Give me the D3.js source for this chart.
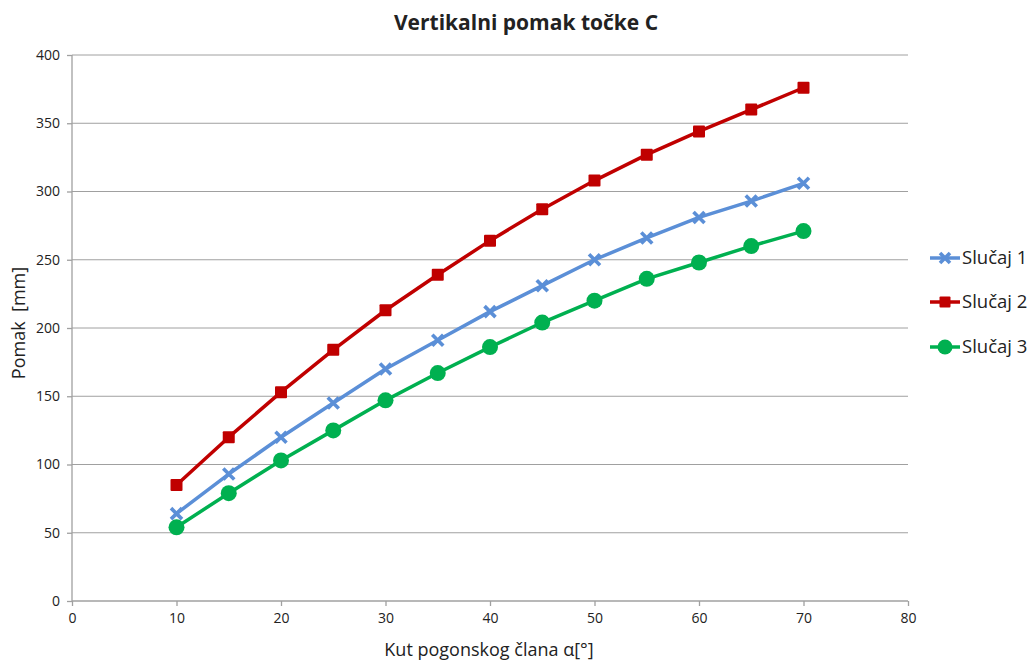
<!DOCTYPE html>
<html>
<head>
<meta charset="utf-8">
<script src="https://cdn.jsdelivr.net/npm/d3@7"></script>
<style>
  body { margin: 0; background: #fff; }
  text { font-family: "Open Sans", "Noto Sans", sans-serif; fill: #222; }
</style>
</head>
<body>
<div id="chart"></div>
<script>
var kut = [10, 15, 20, 25, 30, 35, 40, 45, 50, 55, 60, 65, 70];
var slucaj1 = [64, 93, 120, 145, 170, 191, 212, 231, 250, 266, 281, 293, 306];
var slucaj2 = [85, 120, 153, 184, 213, 239, 264, 287, 308, 327, 344, 360, 376];
var slucaj3 = [54, 79, 103, 125, 147, 167, 186, 204, 220, 236, 248, 260, 271];
var seriesNames = ["Slučaj 1", "Slučaj 2", "Slučaj 3"];
var xTicks = [0, 10, 20, 30, 40, 50, 60, 70, 80];
var yTicks = [0, 50, 100, 150, 200, 250, 300, 350, 400];

var W = 1030, H = 662;
var plotLeft = 72, plotRight = 908, plotTop = 55, plotBottom = 601;

var svg = d3.select("#chart").append("svg")
    .attr("width", W)
    .attr("height", H);

var x = d3.scaleLinear().domain([0, 80]).range([plotLeft, plotRight]);
var y = d3.scaleLinear().domain([0, 400]).range([plotBottom, plotTop]);

// gridlines
svg.append("g")
    .selectAll("line")
    .data(yTicks.slice(1))
    .enter()
    .append("line")
    .attr("x1", plotLeft)
    .attr("x2", plotRight)
    .attr("y1", function(d) { return y(d); })
    .attr("y2", function(d) { return y(d); })
    .style("stroke", "#a0a0a0")
    .style("stroke-width", 1);

var yAxis = svg.append("g")
    .attr("transform", "translate(" + plotLeft + ",0)")
    .call(d3.axisLeft(y).tickValues(yTicks).tickSize(5).tickPadding(7));
var xAxis = svg.append("g")
    .attr("transform", "translate(0," + plotBottom + ")")
    .call(d3.axisBottom(x).tickValues(xTicks).tickSize(5).tickPadding(7));

[yAxis, xAxis].forEach(function(a) {
    a.select(".domain").style("stroke", "#a0a0a0").style("stroke-width", 1.3);
    a.selectAll(".tick line").style("stroke", "#a0a0a0").style("stroke-width", 1.3);
    a.selectAll("text").style("font-size", "14px").style("fill", "#222")
        .style("font-family", "'Open Sans', sans-serif");
});
xAxis.select(".domain").attr("d", "M" + plotLeft + ",0H" + plotRight);
yAxis.select(".domain").attr("d", "M0," + plotBottom + "V" + plotTop);

var COLORS = ["#5b8fd7", "#c00000", "#00b050"];
var allData = [slucaj1, slucaj2, slucaj3];

var line = d3.line()
    .x(function(d, i) { return x(kut[i]); })
    .y(function(d) { return y(d); });

function drawMarker(g, type, cx, cy, color, s) {
    if (type == 0) {
        // thick X
        g.append("path")
            .attr("d", "M" + (cx - s) + "," + (cy - s) + "L" + (cx + s) + "," + (cy + s) +
                       "M" + (cx - s) + "," + (cy + s) + "L" + (cx + s) + "," + (cy - s))
            .style("stroke", color).style("stroke-width", 3.6).style("fill", "none");
    } else if (type == 1) {
        g.append("rect")
            .attr("x", cx - s).attr("y", cy - s)
            .attr("width", 2 * s).attr("height", 2 * s)
            .attr("rx", 1)
            .style("fill", color);
    } else {
        g.append("circle")
            .attr("cx", cx).attr("cy", cy).attr("r", s)
            .style("fill", color);
    }
}

var sizes = [5.5, 6, 8];

allData.forEach(function(vals, k) {
    var g = svg.append("g");
    g.append("path")
        .datum(vals)
        .attr("d", line)
        .style("fill", "none")
        .style("stroke", COLORS[k])
        .style("stroke-width", 3.5)
        .style("stroke-linejoin", "round");
    vals.forEach(function(v, i) {
        drawMarker(g, k, x(kut[i]), y(v), COLORS[k], sizes[k]);
    });
});

// legend
var legY = [258, 302, 347];
seriesNames.forEach(function(name, k) {
    var g = svg.append("g");
    g.append("line")
        .attr("x1", 930).attr("x2", 960)
        .attr("y1", legY[k]).attr("y2", legY[k])
        .style("stroke", COLORS[k]).style("stroke-width", 3.5);
    drawMarker(g, k, 945, legY[k], COLORS[k], sizes[k] - 0.5);
    g.append("text")
        .attr("x", 962).attr("y", legY[k] + 6)
        .style("font-size", "18.5px")
        .text(name);
});

// title
svg.append("text")
    .attr("x", 526).attr("y", 30)
    .attr("text-anchor", "middle")
    .style("font-size", "21px")
    .style("font-weight", "bold")
    .text("Vertikalni pomak točke C");

svg.append("text")
    .attr("x", 489).attr("y", 656)
    .attr("text-anchor", "middle")
    .style("font-size", "18px")
    .text("Kut pogonskog člana α[°]");

svg.append("text")
    .attr("transform", "translate(25," + 323 + ") rotate(-90)")
    .attr("text-anchor", "middle")
    .style("font-size", "18px")
    .style("white-space", "pre")
    .text("Pomak  [mm]");
</script>
</body>
</html>
